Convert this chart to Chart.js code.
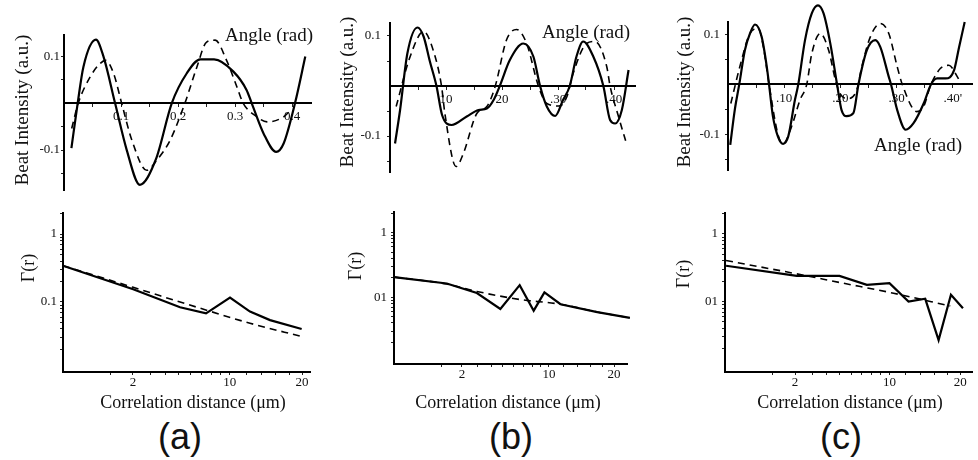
<!DOCTYPE html>
<html><head><meta charset="utf-8">
<script src="https://cdn.jsdelivr.net/npm/chart.js@4/dist/chart.umd.min.js"></script>
<style>
body{margin:0;background:#fff;width:978px;height:460px;position:relative;overflow:hidden;}
canvas{position:absolute;}
.t{position:absolute;font-family:'Liberation Serif','Times New Roman',serif;color:#111;white-space:nowrap;transform:translate(-50%,-50%);z-index:2;}
.v{transform:translate(-50%,-50%) rotate(-90deg);}
.p{position:absolute;font-family:'Liberation Sans',Arial,sans-serif;font-size:36px;color:#111;transform:translate(-50%,-50%);white-space:nowrap;}
</style></head><body>
<canvas id="ta" width="330" height="200" style="left:0;top:0"></canvas>
<canvas id="tb" width="320" height="200" style="left:330px;top:0"></canvas>
<canvas id="tc" width="328" height="200" style="left:650px;top:0"></canvas>
<canvas id="ba" width="330" height="200" style="left:0;top:200px"></canvas>
<canvas id="bb" width="320" height="200" style="left:330px;top:200px"></canvas>
<canvas id="bc" width="328" height="200" style="left:650px;top:200px"></canvas>

<div class="t v" style="left:22px;top:110px;font-size:19px">Beat Intensity (a.u.)</div>
<div class="t v" style="left:347px;top:92px;font-size:19px">Beat Intensity (a.u.)</div>
<div class="t v" style="left:684px;top:92px;font-size:19px">Beat Intensity (a.u.)</div>
<div class="t" style="left:269px;top:35px;font-size:19px">Angle (rad)</div>
<div class="t" style="left:586px;top:32px;font-size:19px">Angle (rad)</div>
<div class="t" style="left:918px;top:145px;font-size:19px">Angle (rad)</div>
<div class="t v" style="left:28px;top:268px;font-size:18px">Γ(r)</div>
<div class="t v" style="left:355px;top:266px;font-size:18px">Γ(r)</div>
<div class="t v" style="left:683px;top:274px;font-size:18px">Γ(r)</div>
<div class="t" style="left:193px;top:402px;font-size:18px">Correlation distance (μm)</div>
<div class="t" style="left:508px;top:402px;font-size:18px">Correlation distance (μm)</div>
<div class="t" style="left:850px;top:402px;font-size:18px">Correlation distance (μm)</div>
<div class="p" style="left:180px;top:437px">(a)</div>
<div class="p" style="left:511px;top:437px">(b)</div>
<div class="p" style="left:841px;top:437px">(c)</div>

<script>
// ---------- DATA ----------
// Top panels: beat intensity vs angle (rad)
const aSolidX = [0.013,0.024,0.034,0.056,0.069,0.0895,0.110,0.133,0.161,0.189,0.215,0.239,0.263,0.297,0.320,0.329,0.350,0.372,0.385,0.405,0.423];
const aSolidY = [-0.096,0.0,0.077,0.135,0.100,0.0,-0.100,-0.174,-0.120,0.0,0.063,0.093,0.093,0.067,0.028,0.0,-0.065,-0.104,-0.086,0.0,0.099];
const aDashX  = [0.0135,0.025,0.046,0.063,0.073,0.087,0.101,0.119,0.145,0.163,0.186,0.212,0.233,0.250,0.265,0.285,0.303,0.314,0.338,0.356,0.384,0.400];
const aDashY  = [-0.054,0.0,0.056,0.084,0.091,0.063,0.0,-0.079,-0.143,-0.121,-0.079,0.0,0.077,0.130,0.134,0.091,0.035,0.0,-0.029,-0.040,-0.030,-0.012];

const bSolidX = [0.009,0.018,0.031,0.049,0.060,0.071,0.083,0.093,0.110,0.137,0.158,0.173,0.185,0.196,0.214,0.238,0.256,0.268,0.280,0.295,0.309,0.321,0.333,0.345,0.363,0.381,0.393,0.402,0.414,0.426];
const bSolidY = [-0.115,-0.048,0.065,0.117,0.099,0.050,0.0,-0.058,-0.078,-0.061,-0.048,-0.045,-0.028,0.0,0.052,0.085,0.059,0.0,-0.041,-0.060,-0.028,0.0,0.059,0.089,0.059,0.0,-0.068,-0.075,-0.048,0.032];
const bDashX  = [0.011,0.036,0.060,0.077,0.092,0.098,0.118,0.131,0.155,0.173,0.188,0.208,0.226,0.244,0.265,0.280,0.302,0.316,0.327,0.351,0.366,0.387,0.393,0.408,0.423];
const bDashY  = [-0.041,0.059,0.109,0.072,0.0,-0.055,-0.161,-0.135,-0.055,-0.041,0.0,0.092,0.113,0.085,0.0,-0.035,-0.040,-0.021,0.025,0.085,0.089,0.039,0.0,-0.061,-0.118];

const cSolidX = [0.004,0.012,0.020,0.030,0.039,0.048,0.060,0.069,0.073,0.080,0.089,0.098,0.107,0.119,0.125,0.137,0.149,0.160,0.170,0.182,0.194,0.202,0.211,0.223,0.232,0.247,0.262,0.271,0.286,0.290,0.301,0.316,0.330,0.348,0.361,0.372,0.387,0.402,0.411,0.421];
const cSolidY = [-0.120,-0.051,0.0,0.068,0.101,0.119,0.094,0.035,0.0,-0.064,-0.104,-0.118,-0.104,-0.031,0.0,0.088,0.141,0.157,0.141,0.081,0.0,-0.051,-0.063,-0.057,0.0,0.068,0.088,0.074,0.015,0.0,-0.051,-0.090,-0.077,-0.038,0.0,0.012,0.012,0.028,0.074,0.124];
const cDashX  = [0.005,0.021,0.039,0.054,0.063,0.073,0.089,0.098,0.113,0.128,0.140,0.149,0.164,0.179,0.191,0.199,0.214,0.229,0.238,0.253,0.271,0.286,0.301,0.310,0.336,0.348,0.360,0.378,0.393,0.408,0.413];
const cDashY  = [-0.038,0.035,0.101,0.111,0.074,0.0,-0.100,-0.118,-0.084,-0.031,0.0,0.061,0.101,0.068,0.009,-0.018,-0.028,-0.011,0.035,0.094,0.121,0.101,0.035,0.0,-0.054,-0.044,-0.003,0.032,0.038,0.015,0.005];

// Bottom panels: Γ(r) vs correlation distance (µm)
const aGammaR     = [0.022,2.01,5.13,7.48,10.04,12.46,15.15,19.93];
const aGamma      = [0.342,0.154,0.0835,0.068,0.116,0.072,0.054,0.040];
const aFitR       = [0.022,2.01,6.89,12.46,19.93];
const aFit        = [0.342,0.164,0.081,0.0486,0.031];

const bGammaR     = [0.0023,1.23,2.94,4.78,6.63,8.16,9.44,11.53,17.1,22.96];
const bGamma      = [0.205,0.163,0.116,0.066,0.154,0.062,0.119,0.078,0.059,0.048];
const bFitR       = [0.0023,1.23,2.94,6.7,11.53,17.1,22.96];
const bFit        = [0.205,0.160,0.123,0.092,0.078,0.059,0.048];

const cGammaR     = [0.019,2.09,5.0,7.52,9.99,12.34,14.61,16.56,18.47,20.43];
const cGamma      = [0.339,0.240,0.240,0.177,0.1875,0.100,0.110,0.027,0.126,0.080];
const cFitR       = [0.019,2.09,5.05,10.47,18.36];
const cFit        = [0.405,0.257,0.191,0.133,0.086];

// Tick values / labels
const topYTicks   = [-0.1, 0.1];
const topYLabels  = ['-0.1', '0.1'];
const topYMinor   = [-0.15, -0.05, 0.05];
const topXTicks   = [0.1, 0.2, 0.3, 0.4];
const aXLabels    = ['0.1', '0.2', '0.3', '0.4'];
const bXLabels    = ['10', '20', '.30', '.40'];
const cXLabels    = ['.10', '.20', '.30', '.40\''];
const topXMinor   = [0.05, 0.15, 0.25, 0.35];

const botXTicks   = [2, 10, 20];
const botXLabels  = ['2', '10', '20'];
const botXMinor   = [1, 3, 4, 5, 6, 7, 8, 9, 12, 14, 16, 18];
const botYTicks   = [0.1, 1];
const aYLabels    = ['0.1', '1'];
const bcYLabels   = ['01', '1'];
const botYMinor   = [0.02,0.03,0.04,0.05,0.06,0.07,0.08,0.09,0.2,0.3,0.4,0.5,0.6,0.7,0.8,0.9,2];

// ---------- SQRT SCALE ----------
class SqrtScale extends Chart.LinearScale {
  static id = 'sqrt';
  getPixelForValue(value) {
    const a = Math.sqrt(Math.max(this.min, 0)), b = Math.sqrt(this.max);
    const v = Math.sqrt(Math.max(value, 0));
    return this.getPixelForDecimal((v - a) / (b - a));
  }
  getValueForPixel(pixel) {
    const a = Math.sqrt(Math.max(this.min, 0)), b = Math.sqrt(this.max);
    const s = a + this.getDecimalForPixel(pixel) * (b - a);
    return s * s;
  }
}
Chart.register(SqrtScale);

const FONT = {family: "'Liberation Serif','Times New Roman',serif", size: 13};
const pts = (xs, ys) => xs.map((x, i) => ({x: x, y: ys[i]}));

function axis(major, labels, minor, extra) {
  return Object.assign({
    afterBuildTicks: s => { s.ticks = major.concat(minor).sort((p, q) => p - q).map(v => ({value: v})); },
    ticks: {
      autoSkip: false, maxRotation: 0, color: '#111', font: FONT, padding: 3,
      callback: v => { const i = major.findIndex(m => Math.abs(m - v) < 1e-9); return i >= 0 ? labels[i] : ''; }
    },
    grid: {display: true, drawOnChartArea: false, drawTicks: true, tickLength: 3, color: '#222', lineWidth: 1},
    border: {display: true, color: '#000', width: 2}
  }, extra);
}

function make(id, datasets, scales, padding) {
  new Chart(document.getElementById(id), {
    type: 'line',
    data: {datasets: datasets},
    options: {
      responsive: false, animation: false, devicePixelRatio: 1,
      layout: {padding: padding},
      plugins: {legend: {display: false}, tooltip: {enabled: false}},
      elements: {point: {radius: 0}},
      scales: scales
    }
  });
}

function sets(sx, sy, dx, dy, smoothSolid) {
  const base = {pointRadius: 0, borderColor: '#000', fill: false, clip: false};
  const mono = {cubicInterpolationMode: 'monotone'};
  return [
    Object.assign({}, base, smoothSolid ? mono : {tension: 0}, {data: pts(sx, sy), borderWidth: 2.2}),
    Object.assign({}, base, mono, {data: pts(dx, dy), borderWidth: 1.6, borderDash: [7, 5]})
  ];
}

function topChart(id, sx, sy, dx, dy, xmax, ymin, ymax, xLabels, pad, ypad) {
  const y = axis(topYTicks, topYLabels, topYMinor, {type: 'linear', position: 'left', min: ymin, max: ymax,
    afterFit: s => { s.width = 40; }});
  y.ticks.padding = ypad;
  make(id, sets(sx, sy, dx, dy, true), {
    x: axis(topXTicks, xLabels, topXMinor, {type: 'linear', position: {y: 0}, min: 0, max: xmax}),
    y: y
  }, pad);
}

function botChart(id, sx, sy, dx, dy, xmin, xmax, ymin, ymax, yLabels, pad, ypad) {
  const x = axis(botXTicks, botXLabels, botXMinor, {type: 'sqrt', position: 'bottom', min: xmin, max: xmax,
    afterFit: s => { s.height = 20; }});
  x.ticks.padding = 0;
  const y = axis(botYTicks, yLabels, botYMinor, {type: 'logarithmic', position: 'left', min: ymin, max: ymax,
    afterFit: s => { s.width = 40; }});
  y.ticks.padding = ypad;
  make(id, sets(sx, sy, dx, dy, false), {x: x, y: y}, pad);
}

topChart('ta', aSolidX, aSolidY, aDashX, aDashY, 0.433, -0.185, 0.145, aXLabels, {left: 24, top: 35, right: 19, bottom: 10}, 1);
topChart('tb', bSolidX, bSolidY, bDashX, bDashY, 0.4375, -0.172, 0.126, bXLabels, {left: 20, top: 23, right: 15, bottom: 28}, 6);
topChart('tc', cSolidX, cSolidY, cDashX, cDashY, 0.434, -0.170, 0.124, cXLabels, {left: 38, top: 22, right: 6, bottom: 30}, 5);

botChart('ba', aGammaR, aGamma, aFitR, aFit, 0.022, 21.3, 0.0093, 2.04, aYLabels, {left: 23, top: 13, right: 20, bottom: 8}, 3);
botChart('bb', bGammaR, bGamma, bFitR, bFit, 0.0023, 22.4, 0.0093, 2.09, bcYLabels, {left: 24, top: 5, right: 23, bottom: 16}, 4);
botChart('bc', cGammaR, cGamma, cFitR, cFit, 0.014, 21.97, 0.0091, 2.04, bcYLabels, {left: 35, top: 13, right: 6, bottom: 8}, 4);
</script>
</body></html>
